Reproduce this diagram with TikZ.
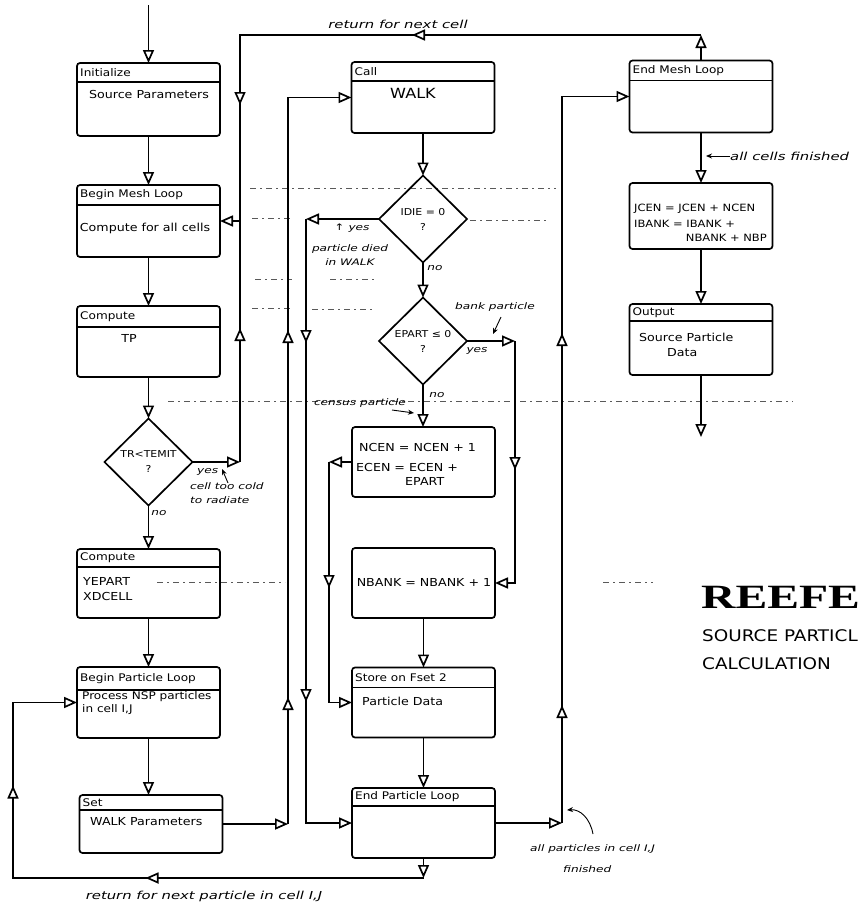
\documentclass[tikz,border=0pt]{standalone}
\usepackage{fontspec}
\setmainfont{DejaVu Sans}
\newfontfamily\hand{DejaVu Sans}[FakeStretch=1.15]
\newfontfamily\handn{DejaVu Sans}[FakeStretch=1.35]
\newfontfamily\titlefont{Liberation Serif}[FakeStretch=1.4]
\usetikzlibrary{arrows.meta,shapes.geometric,decorations.markings}
\tikzset{
  otri/.tip={Triangle[length=13pt,width=11pt,fill=white]},
  conn/.style={line width=1.7pt},
  flow/.style={conn,-otri},
  midtip/.style={postaction={decorate,decoration={markings,mark=at position #1 with {\arrow{otri}}}}},
  pbox/.style={draw, line width=1.7pt, rounded corners=3pt, minimum width=143pt, inner sep=0pt, outer sep=0pt},
  hline/.style={line width=1.3pt},
  htext/.style={anchor=west, inner sep=0pt, font=\hand\fontsize{10.5}{12}\selectfont},
  btext/.style={inner sep=0pt, align=left, font=\hand\fontsize{11}{15}\selectfont},
  dia/.style={draw, shape=diamond, line width=1.7pt, inner sep=0pt, outer sep=0pt, minimum width=88pt, minimum height=87pt, align=center, font=\hand\fontsize{9.5}{15}\selectfont},
  note/.style={inner sep=0pt, font=\handn\itshape\fontsize{11}{13}\selectfont},
  snote/.style={inner sep=0pt, align=left, font=\handn\itshape\fontsize{9}{14}\selectfont},
  ann/.style={line width=0.9pt, -{Stealth[length=6pt,width=5pt]}},
  scan/.style={line width=0.7pt, black!65, dash pattern=on 6pt off 4pt on 2pt off 4pt},
}
\newcommand\mkbox[5]{%
  \node[pbox, minimum height=#3] (#1) at #2 {};
  \draw[hline] ([yshift=-#4]#1.north west) -- ([yshift=-#4]#1.north east);
  \node[htext] (#1-h) at ([xshift=3pt,yshift=-#4/2]#1.north west) {#5};
}
\begin{document}
\begin{tikzpicture}[x=1pt,y=-1pt]
\useasboundingbox (0,0) rectangle (864,906);
\clip (0,0) rectangle (864,906);
\fill[white] (0,0) rectangle (864,906);

% faint scan lines
\draw[scan] (250,188) -- (556,188);
\draw[scan] (252,218) -- (292,218);
\draw[scan] (470,220) -- (548,220);
\draw[scan] (255,279) -- (292,279);
\draw[scan] (330,279) -- (375,279);
\draw[scan] (252,308) -- (292,308);
\draw[scan] (312,309) -- (372,309);
\draw[scan] (168,401) -- (793,401);
\draw[scan] (157,582) -- (285,582);
\draw[scan] (603,582) -- (653,582);

% left column
\mkbox{init}{(148.5,99.5)}{73pt}{19pt}{Initialize}
\mkbox{bml}{(148.5,221)}{72pt}{20pt}{Begin Mesh Loop}
\mkbox{cmpa}{(148.5,341.5)}{71pt}{21pt}{Compute}
\node[dia] (tr) at (148.5,462) {TR<TEMIT\\?};
\mkbox{cmpb}{(148.5,583.5)}{69pt}{18pt}{Compute}
\mkbox{bpl}{(148.5,702.5)}{71pt}{23pt}{Begin Particle Loop}
\mkbox{set}{(151,824)}{58pt}{15pt}{Set}

\node[btext] (init-t) at (149,94) {Source Parameters};
\node[btext] (bml-t) at (145,228) {Compute for all cells};
\node[btext] (cmpa-t) at (129,338) {TP};
\node[btext, anchor=west] (cmpb-t) at (83,589) {YEPART\\XDCELL};
\node[btext, anchor=west, font=\hand\fontsize{10.5}{13}\selectfont] (bpl-t) at (82,703) {Process NSP particles\\ in cell I,J};
\node[btext, anchor=west] (set-t) at (90,822) {WALK Parameters};

% center column
\mkbox{walk}{(423,97.5)}{71pt}{19pt}{Call}
\node[dia] (idie) at (423,219) {IDIE = 0\\?};
\node[dia] (ep) at (423,341) {EPART ≤ 0\\?};
\node[pbox, minimum height=70pt] (ncen) at (423.5,462) {};
\node[pbox, minimum height=70pt] (nbank) at (423.5,583) {};
\mkbox{store}{(423.5,702.5)}{70pt}{20pt}{Store on Fset 2}
\mkbox{epl}{(423.5,823)}{70pt}{18pt}{End Particle Loop}

\node[btext, font=\hand\fontsize{14}{16}\selectfont] (walk-t) at (413,93) {WALK};
\node[btext, anchor=west] (ncen-t1) at (359,447) {NCEN = NCEN + 1};
\node[btext, anchor=west] (ncen-t2) at (356,467) {ECEN = ECEN +};
\node[btext, anchor=west] (ncen-t3) at (405,481) {EPART};
\node[btext] (nbank-t) at (424,582) {NBANK = NBANK + 1};
\node[btext, anchor=west] (store-t) at (362,701) {Particle Data};

% right column
\mkbox{eml}{(701,96.5)}{72pt}{20pt}{End Mesh Loop}
\node[pbox, minimum height=66pt] (jcen) at (701,216) {};
\mkbox{out}{(701,339.5)}{71pt}{17pt}{Output}

\node[btext, anchor=west, font=\hand\fontsize{10}{12}\selectfont] (jcen-t1) at (634,209) {JCEN = JCEN + NCEN};
\node[btext, anchor=west, font=\hand\fontsize{10}{12}\selectfont] (jcen-t2) at (634,224) {IBANK = IBANK +};
\node[btext, anchor=east, font=\hand\fontsize{10}{12}\selectfont] (jcen-t3) at (767,238) {NBANK + NBP};
\node[btext, anchor=west] (out-t1) at (639,337) {Source Particle};
\node[btext, anchor=west] (out-t2) at (667,353) {Data};

% title
\node[anchor=west, inner sep=0pt, font=\titlefont\bfseries\fontsize{34}{36}\selectfont] (title) at (701,597) {REEFE};
\node[anchor=west, inner sep=0pt, font=\hand\fontsize{16}{18}\selectfont] (sub1) at (702,636) {SOURCE PARTICL};
\node[anchor=west, inner sep=0pt, font=\hand\fontsize{16}{18}\selectfont] (sub2) at (702,664) {CALCULATION};

% straight connectors
\coordinate (start) at (148.5,5);
\draw[flow] (start) -- (init.north);
\draw[flow] (init.south) -- (bml.north);
\draw[flow] (bml.south) -- (cmpa.north);
\draw[flow] (cmpa.south) -- (tr.north);
\draw[flow] (tr.south) -- (cmpb.north);
\draw[flow] (cmpb.south) -- (bpl.north);
\draw[flow] (bpl.south) -- (bpl.south |- set.north);
\draw[flow] (walk.south) -- (idie.north);
\draw[flow] (idie.south) -- (ep.north);
\draw[flow] (ep.south) -- (ep.south |- ncen.north);
\draw[flow] (nbank.south) -- (store.north);
\draw[flow] (store.south) -- (epl.north);
\draw[flow] (eml.south) -- (jcen.north);
\draw[flow] (jcen.south) -- (out.north);
\coordinate (outend) at (701,437);
\draw[flow] (out.south) -- (outend);

% mesh loop return and cold-cell branch
\coordinate (tyes) at (240,462);
\coordinate (ttop) at (240,35);
\coordinate (rtop) at (701,35);
\draw[flow] (tr.east) -- (tyes);
\draw[conn, midtip=134pt] (tyes) -- (tyes |- bml.east);
\draw[flow] (eml.north) -- (rtop);
\draw[flow, midtip=289pt, midtip=531pt] (rtop) -- (ttop) -- (ttop |- bml.east) -- (bml.east);

% set -> walk
\coordinate (c2) at (288,824);
\draw[flow] (set.east) -- (c2);
\draw[flow, midtip=127pt, midtip=494pt] (c2) -- (c2 |- walk.west) -- (walk.west);

% particle died
\coordinate (c3) at (306,219);
\draw[flow] (idie.west) -- (c3);
\draw[flow, midtip=124pt, midtip=483pt] (c3) -- (c3 |- epl.west) -- (epl.west);

% bank particle
\coordinate (c4) at (515,341);
\draw[flow] (ep.east) -- (c4);
\draw[flow, midtip=129pt] (c4) -- (c4 |- nbank.east) -- (nbank.east);

% census particle
\coordinate (c5) at (329,462);
\draw[flow] (ncen.west) -- (c5);
\draw[flow, midtip=126pt] (c5) -- (c5 |- store.west) -- (store.west);

% all particles finished
\coordinate (c6) at (562,823);
\draw[flow] (epl.east) -- (c6);
\draw[flow, midtip=118pt, midtip=490pt] (c6) -- (c6 |- eml.west) -- (eml.west);

% return for next particle
\coordinate (c7) at (423.5,878);
\coordinate (c8) at (13,878);
\draw[flow] (epl.south) -- (c7);
\draw[flow, midtip=278pt, midtip=503pt] (c7) -- (c8) -- (c8 |- bpl.west) -- (bpl.west);

% annotations
\node[note] (n1) at (398,24) {return for next cell};
\node[note] (n2) at (204,896) {return for next particle in cell I,J};
\node[note, anchor=west] (n3) at (730,156) {all cells finished};
\coordinate (n3a) at (706,156);
\draw[ann] (n3.west) -- (n3a);

\node[snote, anchor=west] (yes1) at (197,472) {yes};
\node[snote, anchor=north west] (cold) at (190,482) {cell too cold\\to radiate};
\coordinate (coldb) at (228,483);
\coordinate (colda) at (222,469);
\draw[ann] (coldb) -- (colda);
\node[snote] (no1) at (159,513) {no};

\node[snote] (yes2) at (352,228) {↑ yes};
\node[snote, align=center] (died) at (350,255) {particle died\\in WALK};
\node[snote] (no2) at (435,268) {no};

\node[snote] (bank) at (495,307) {bank particle};
\coordinate (banka) at (501,317);
\coordinate (bankb) at (493,334);
\draw[ann] (banka) -- (bankb);
\node[snote] (yes3) at (477,351) {yes};
\node[snote] (no3) at (437,395) {no};
\node[snote] (census) at (360,403) {census particle};
\coordinate (censa) at (392,410);
\coordinate (censb) at (414,413);
\draw[ann] (censa) -- (censb);

\node[snote, anchor=west] (allp) at (530,849) {all particles in cell I,J};
\node[snote, anchor=west] (fin) at (563,869) {finished};
\coordinate (allpa) at (593,834);
\coordinate (allpb) at (567,810);
\draw[ann] (allpa) .. controls (590,818) and (580,809) .. (allpb);
\end{tikzpicture}
\end{document}
